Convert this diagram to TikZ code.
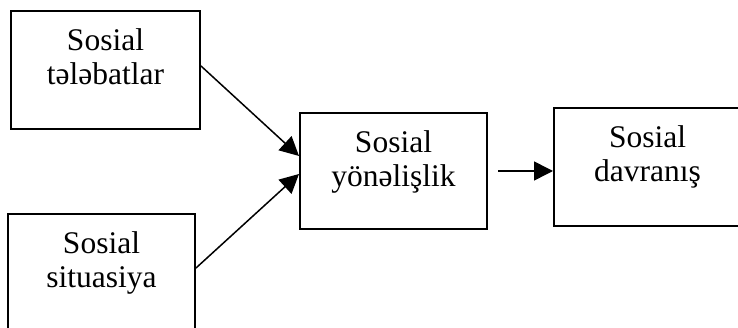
\documentclass[tikz,border=0pt]{standalone}
\usepackage{fontspec}
\setmainfont{Liberation Serif}
\usetikzlibrary{arrows.meta,positioning}
\begin{document}
\begin{tikzpicture}[x=1pt,y=-1pt,>={Triangle[length=19pt,width=19pt]},
 bx/.style={draw,line width=2pt,rectangle,inner sep=0pt,minimum width=187pt,minimum height=118pt,anchor=north west},
 tx/.style={align=center,inner sep=0pt,anchor=north,font=\fontsize{31.5}{34}\selectfont},
 ar/.style={->,line width=1.5pt}]
\useasboundingbox (0,0) rectangle (738,328);
% boxes
\node[bx,minimum width=189pt] (need) at (10,10) {};
\node[bx] (sit) at (7,213) {};
\node[bx,minimum height=116pt] (ori) at (299,112) {};
\node[bx] (beh) at (553,107) {};
% texts
\node[tx] (needt) at ([yshift=-18pt]need.north) {Sosial\\tələbatlar};
\node[tx] (sitt) at ([yshift=-18pt]sit.north) {Sosial\\situasiya};
\node[tx] (orit) at ([yshift=-18pt]ori.north) {Sosial\\yönəlişlik};
\node[tx] (beht) at ([yshift=-18pt]beh.north) {Sosial\\davranış};
% arrows
\draw[ar] ([yshift=4pt]need.east) -- ([yshift=15pt]ori.west);
\draw[ar] ([yshift=5pt]sit.east) -- ([yshift=-3pt]ori.west);
\draw[ar] ([xshift=10pt]ori.east) -- (ori.east -| beh.west);
\end{tikzpicture}
\end{document}
